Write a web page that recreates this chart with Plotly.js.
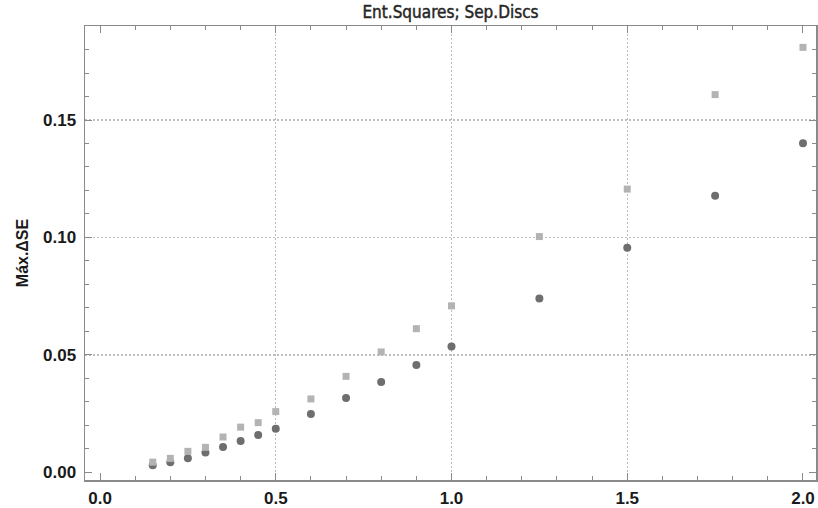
<!DOCTYPE html>
<html>
<head>
<meta charset="utf-8">
<script src="https://cdn.plot.ly/plotly-3.0.1.min.js"></script>
<style>html,body{margin:0;padding:0;background:#fff;}#chart{width:818px;height:508px;}
.gtitle{stroke:#262626;stroke-width:0.45px;}</style>
</head>
<body>
<div id="chart"></div>
<script>
// Data
var xValues = [0.15, 0.2, 0.25, 0.3, 0.35, 0.4, 0.45, 0.5, 0.6, 0.7, 0.8, 0.9, 1.0, 1.25, 1.5, 1.75, 2.0];
var squaresEnt = [0.0044, 0.0060, 0.0090, 0.0107, 0.0151, 0.0193, 0.0212, 0.0259, 0.0313, 0.0409, 0.0513, 0.0612, 0.0709, 0.1004, 0.1206, 0.1608, 0.1809];
var discsSep = [0.0031, 0.0044, 0.0061, 0.0085, 0.0108, 0.0134, 0.0159, 0.0186, 0.0249, 0.0317, 0.0385, 0.0457, 0.0536, 0.0740, 0.0956, 0.1178, 0.1401];
var xTickVals = [0, 0.5, 1.0, 1.5, 2.0];
var xTickText = ["0.0", "0.5", "1.0", "1.5", "2.0"];
var yTickVals = [0, 0.05, 0.10, 0.15];
var yTickText = ["0.00", "0.05", "0.10", "0.15"];
var xGridVals = [0.5, 1.0, 1.5];
var yGridVals = [0.05, 0.10, 0.15];
var titleText = "Ent.Squares; Sep.Discs";
var yTitleText = "Máx.ΔSE";

var xRange = [-0.0427, 2.037];
var yRange = [-0.0032, 0.190];

var traces = [
  {
    x: xValues, y: discsSep, type: 'scatter', mode: 'markers', name: 'Sep.Discs',
    marker: {symbol: 'circle', size: 8, color: '#6e6e6e', line: {width: 0}}
  },
  {
    x: xValues, y: squaresEnt, type: 'scatter', mode: 'markers', name: 'Ent.Squares',
    marker: {symbol: 'square', size: 7, color: '#b3b3b3', line: {width: 0}}
  },
  // invisible trace to activate the grid-only overlay axes
  {x: [xRange[0]], y: [yRange[0]], xaxis: 'x2', yaxis: 'y2', type: 'scatter', mode: 'markers',
   marker: {opacity: 0}, hoverinfo: 'skip', showlegend: false}
];

var tickFont = {family: 'Liberation Sans, Arial, sans-serif', size: 17, color: '#1a1a1a', weight: 'bold'};
var frameColor = '#8a8a8a';
var gridColor = '#bdbdbd';

var layout = {
  width: 818, height: 508,
  margin: {l: 85, r: 2, t: 26, b: 28, pad: 0},
  paper_bgcolor: '#ffffff', plot_bgcolor: '#ffffff',
  showlegend: false,
  title: {
    text: titleText, x: 0.5, xref: 'paper', xanchor: 'center', y: 0.988, yref: 'container', yanchor: 'top',
    font: {family: 'DejaVu Sans Condensed, Liberation Sans Narrow, sans-serif', size: 17, color: '#262626'}
  },
  xaxis: {
    range: xRange, showgrid: false, zeroline: false,
    tickmode: 'array', tickvals: xTickVals, ticktext: xTickText,
    ticks: 'inside', ticklen: 7, tickwidth: 1, tickcolor: frameColor,
    minor: {dtick: 0.1, tick0: 0, ticks: 'inside', ticklen: 4, tickwidth: 1, tickcolor: frameColor, showgrid: false},
    showline: true, linecolor: frameColor, linewidth: 1.5, mirror: 'allticks',
    tickfont: tickFont, ticklabelstandoff: 2
  },
  yaxis: {
    range: yRange, showgrid: false, zeroline: false,
    tickmode: 'array', tickvals: yTickVals, ticktext: yTickText,
    ticks: 'inside', ticklen: 7, tickwidth: 1, tickcolor: frameColor,
    minor: {dtick: 0.01, tick0: 0, ticks: 'inside', ticklen: 4, tickwidth: 1, tickcolor: frameColor, showgrid: false},
    showline: true, linecolor: frameColor, linewidth: 1.5, mirror: 'allticks',
    tickfont: tickFont, ticklabelstandoff: 4,
    title: {text: yTitleText, standoff: 10, font: {family: 'Liberation Sans, Arial, sans-serif', size: 16, color: '#1a1a1a', weight: 'bold'}}
  },
  xaxis2: {
    overlaying: 'x', matches: 'x', range: xRange, tickmode: 'array', tickvals: xGridVals,
    showgrid: true, gridcolor: gridColor, griddash: '1.5px,2.5px', gridwidth: 1.2,
    showticklabels: false, ticks: '', showline: false, zeroline: false, layer: 'below traces'
  },
  yaxis2: {
    overlaying: 'y', matches: 'y', range: yRange, tickmode: 'array', tickvals: yGridVals,
    showgrid: true, gridcolor: gridColor, griddash: '1.5px,2.5px', gridwidth: 1.2,
    showticklabels: false, ticks: '', showline: false, zeroline: false, layer: 'below traces'
  }
};

Plotly.newPlot('chart', traces, layout, {staticPlot: true, displayModeBar: false});
</script>
</body>
</html>
